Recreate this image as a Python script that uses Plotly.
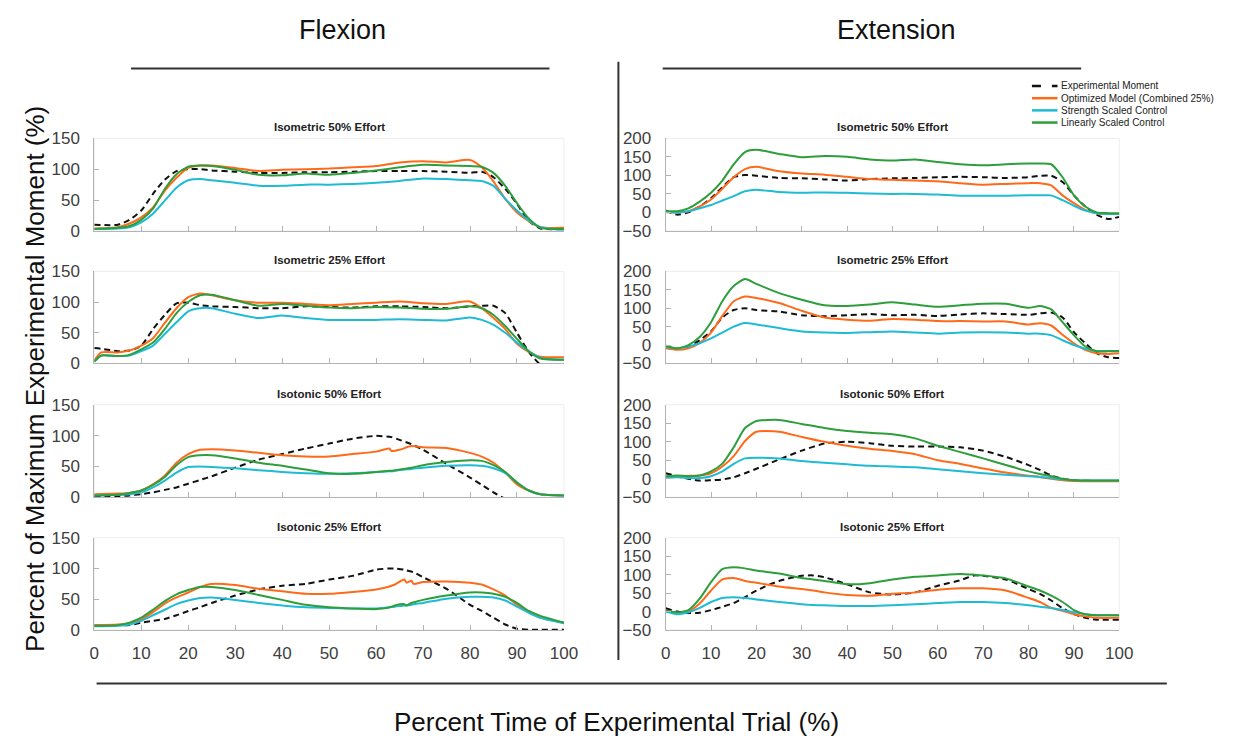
import plotly.graph_objects as go

W, H = 1233, 749

# ---------------- data ----------------
SERIES_NAMES = ["Experimental Moment", "Optimized Model (Combined 25%)",
                "Strength Scaled Control", "Linearly Scaled Control"]
SERIES_COLORS = ["#111111", "#FF6A1A", "#1EBBD4", "#2E9E3C"]

X_TICKS = [0, 10, 20, 30, 40, 50, 60, 70, 80, 90, 100]
Y_TICKS_FLEX = [0, 50, 100, 150]
Y_TICKS_EXT = [-50, 0, 50, 100, 150, 200]

# Flexion - Isometric 50% Effort
X_FLEX_ISOM50 = [0, 5, 7.5, 10, 12.5, 15, 17.5, 20, 22.5, 25, 30, 35, 40, 45, 50, 55, 60, 65, 70, 75,
                 80, 82.5, 85, 87.5, 90, 92.5, 95, 100]
EXP_FLEX_ISOM50 = [10, 10, 18, 33, 60, 83, 97, 100, 100, 98, 96, 94, 94, 95, 95, 96, 97, 97, 97, 96,
                   94, 96, 87, 68, 44, 16, 4, 3]
OPT_FLEX_ISOM50 = [4, 6, 12, 22, 38, 65, 86, 102, 106, 106, 102, 97, 99, 100, 101, 103, 105, 111, 113, 111,
                   115, 103, 80, 52, 30, 16, 6, 5]
STR_FLEX_ISOM50 = [3, 4, 6, 14, 28, 49, 70, 82, 84, 82, 78, 73, 73, 75, 75, 76, 78, 81, 85, 84,
                   82, 81, 73, 52, 33, 17, 6, 2]
LIN_FLEX_ISOM50 = [3, 5, 8, 18, 36, 68, 92, 104, 106, 105, 99, 91, 90, 93, 91, 94, 98, 103, 107, 106,
                   105, 104, 94, 73, 45, 20, 5, 3]

# Flexion - Isometric 25% Effort
X_FLEX_ISOM25 = [0, 1.5, 5, 7.5, 10, 12.5, 15, 17.5, 20, 22.5, 25, 30, 35, 40, 45, 50, 55, 60, 65, 70,
                 75, 80, 82.5, 85, 87.5, 90, 92.5, 95, 100]
EXP_FLEX_ISOM25 = [25, 24, 20, 21, 29, 56, 79, 98, 99, 95, 93, 92, 90, 90, 93, 92, 91, 93, 93, 92,
                   90, 93, 94, 94, 82, 50, 19, -2, -20]
OPT_FLEX_ISOM25 = [5, 18, 18, 21, 29, 41, 66, 90, 108, 114, 111, 103, 99, 99, 97, 95, 97, 99, 101, 98,
                   97, 101, 90, 74, 56, 32, 19, 11, 10]
STR_FLEX_ISOM25 = [3, 13, 12, 13, 20, 29, 48, 67, 85, 90, 90, 81, 74, 78, 74, 71, 71, 71, 72, 71,
                   70, 75, 71, 63, 50, 34, 20, 9, 6]
LIN_FLEX_ISOM25 = [3, 13, 12, 14, 23, 34, 56, 82, 100, 111, 112, 103, 94, 97, 94, 91, 90, 92, 91, 89,
                   89, 93, 90, 79, 61, 40, 20, 8, 6]

# Flexion - Isotonic 50% Effort
X_FLEX_ISOT50 = [0, 5, 7.5, 10, 12.5, 15, 17.5, 20, 22.5, 25, 30, 35, 40, 45, 50, 55, 60, 62.8, 63.3, 65,
                 67.5, 70, 75, 80, 82.5, 85, 87.5, 90, 92.5, 95, 100]
EXP_FLEX_ISOT50 = [1, 2, 3, 5, 8, 12, 16, 22, 28, 34, 48, 61, 70, 79, 87, 95, 99.5, 98, 97.5, 93,
                   86, 77, 54, 32, 20, 8, -3, -15, -25, -30, -30]
OPT_FLEX_ISOT50 = [5, 6, 7, 11, 21, 35, 56, 70, 77, 78, 76, 72, 68, 66, 66, 70, 74, 79, 75, 77,
                   83, 81, 80, 72, 66, 56, 40, 21, 11, 5, 3]
STR_FLEX_ISOT50 = [3, 4, 5, 8, 16, 27, 40, 49, 50, 49, 47, 44, 41, 39, 38, 39, 41, 42, 42, 44,
                   46, 48, 51, 52, 51, 47, 39, 24, 11, 5, 3]
LIN_FLEX_ISOT50 = [3, 4, 7, 11, 20, 33, 52, 65, 68, 68, 63, 56, 51, 45, 39, 38, 41, 43, 43, 45,
                   48, 52, 57, 60, 59, 52, 41, 24, 11, 5, 3]

# Flexion - Isotonic 25% Effort
X_FLEX_ISOT25 = [0, 5, 7.5, 10, 12.5, 15, 17.5, 20, 22.5, 25, 30, 35, 40, 45, 50, 55, 60, 62.5, 64, 66,
                 66.5, 67.5, 68, 70, 75, 80, 82.5, 85, 87.5, 90, 92.5, 95, 100]
EXP_FLEX_ISOT25 = [7, 8, 8, 12, 15, 18, 24, 31, 37, 44, 56, 66, 72, 75, 82, 88, 98, 100, 100, 98,
                   97, 95, 94, 86, 67, 41, 31, 20, 9, 2, 0.5, 0.5, 0.5]
OPT_FLEX_ISOT25 = [8, 9, 11, 17, 29, 43, 53, 61, 70, 75, 73, 67, 63, 59, 59, 62, 66, 70, 74, 82,
                   77, 80, 75, 78, 79, 77, 74, 66, 56, 41, 29, 20, 12]
STR_FLEX_ISOT25 = [6, 7, 9, 15, 24, 33, 42, 48, 52, 53, 49, 44, 40, 37, 36, 35, 35, 37, 38, 40,
                   40, 41, 42, 44, 51, 54, 54, 53, 48, 38, 28, 20, 11]
LIN_FLEX_ISOT25 = [7, 8, 12, 20, 33, 47, 58, 65, 70, 70, 65, 57, 49, 41, 37, 35, 34, 36, 40, 42,
                   40, 44, 45, 49, 56, 61, 61, 59, 54, 44, 31, 23, 12]

# Extension - Isometric 50% Effort
X_EXT_ISOM50 = [0, 2.5, 5, 7.5, 10, 12.5, 15, 17.5, 20, 25, 30, 35, 40, 45, 50, 55, 60, 65, 70, 75,
                80, 82.5, 85, 87.5, 90, 92.5, 95, 97.5, 100]
EXP_EXT_ISOM50 = [5, -6, 0, 16, 38, 68, 95, 101, 99, 93, 92, 89, 86, 90, 92, 93, 95, 96, 95, 93,
                  95, 99, 99, 82, 46, 16, -6, -18, -12]
OPT_EXT_ISOM50 = [1, 0, 3, 16, 35, 64, 95, 117, 123, 111, 105, 102, 96, 90, 88, 86, 84, 79, 75, 77,
                  79, 79, 73, 46, 25, 7, -2, -4, -4]
STR_EXT_ISOM50 = [1, 0, 3, 11, 20, 32, 44, 57, 61, 55, 53, 54, 53, 51, 50, 50, 48, 45, 45, 45,
                  46, 46, 46, 33, 18, 5, -2, -4, -4]
LIN_EXT_ISOM50 = [4, 3, 11, 29, 53, 86, 130, 163, 169, 158, 149, 152, 150, 143, 140, 143, 136, 130, 127, 130,
                  132, 132, 130, 95, 46, 16, 0, -2, -2]

# Extension - Isometric 25% Effort
X_EXT_ISOM25 = [0, 2.5, 5, 7.5, 10, 12.5, 15, 17.5, 20, 25, 30, 35, 40, 45, 50, 55, 60, 65, 70, 75,
                80, 82.5, 85, 87.5, 90, 92.5, 95, 97.5, 100]
EXP_EXT_ISOM25 = [-4, -10, -4, 13, 37, 75, 95, 100, 95, 91, 81, 78, 81, 84, 81, 82, 79, 83, 86, 84,
                  82, 86, 88, 75, 35, 5, -22, -33, -35]
OPT_EXT_ISOM25 = [-9, -13, -9, 6, 34, 79, 119, 132, 128, 114, 93, 75, 69, 66, 71, 69, 65, 65, 64, 64,
                  56, 59, 53, 28, 5, -13, -22, -24, -22]
STR_EXT_ISOM25 = [-6, -9, -4, 5, 18, 34, 50, 60, 56, 46, 37, 34, 33, 35, 37, 34, 31, 34, 35, 34,
                  31, 31, 27, 13, 0, -10, -16, -16, -16]
LIN_EXT_ISOM25 = [-2, -9, 0, 22, 62, 119, 160, 179, 166, 141, 123, 108, 106, 110, 116, 110, 104, 108, 112, 112,
                  101, 106, 97, 62, 27, -4, -17, -17, -16]

# Extension - Isotonic 50% Effort
X_EXT_ISOT50 = [0, 2.5, 5, 7.5, 10, 12.5, 15, 17.5, 20, 25, 30, 35, 40, 45, 50, 55, 60, 65, 70, 75,
                80, 82.5, 85, 87.5, 90, 95, 100]
EXP_EXT_ISOT50 = [15, 7, 0, -5, -4, -2, 4, 15, 27, 52, 76, 95, 100, 96, 89, 87, 87, 85, 76, 59,
                  37, 24, 9, 0, -4, -6, -6]
OPT_EXT_ISOT50 = [4, 7, 8, 9, 15, 33, 61, 102, 127, 127, 113, 100, 89, 81, 75, 66, 50, 40, 28, 17,
                  8, 5, 0, -4, -6, -7, -7]
STR_EXT_ISOT50 = [2, 4, 2, 2, 7, 20, 40, 55, 57, 55, 48, 43, 39, 35, 33, 31, 26, 20, 15, 11,
                  7, 5, 2, -2, -4, -5, -5]
LIN_EXT_ISOT50 = [7, 9, 7, 9, 20, 41, 85, 137, 156, 159, 148, 137, 129, 124, 120, 109, 89, 72, 55, 37,
                  20, 13, 7, 0, -4, -5, -5]

# Extension - Isotonic 25% Effort
X_EXT_ISOT25 = [0, 2.5, 5, 7.5, 10, 12.5, 15, 17.5, 20, 25, 30, 32.5, 35, 40, 45, 50, 55, 60, 65, 68,
                70, 75, 80, 82.5, 85, 87.5, 90, 92.5, 95, 100]
EXP_EXT_ISOT25 = [9, 0, -4, -3, 4, 13, 23, 39, 57, 83, 97, 98, 93, 74, 52, 46, 52, 70, 85, 98,
                  97, 87, 61, 48, 30, 9, -7, -17, -22, -22]
OPT_EXT_ISOT25 = [3, -4, 0, 22, 57, 87, 91, 83, 78, 68, 61, 57, 52, 45, 43, 48, 52, 59, 63, 63,
                  63, 57, 37, 26, 10, 2, -7, -13, -17, -17]
STR_EXT_ISOT25 = [0, -7, -2, 10, 26, 37, 39, 37, 33, 26, 20, 18, 17, 15, 15, 17, 20, 23, 26, 26,
                  26, 23, 17, 13, 10, 4, -2, -7, -10, -10]
LIN_EXT_ISOT25 = [4, -2, 4, 35, 80, 115, 120, 117, 111, 103, 91, 87, 83, 74, 77, 87, 94, 98, 102, 100,
                  98, 90, 68, 57, 43, 26, 4, -7, -10, -10]

PANELS = [
    ("Isometric 50% Effort", "flex", 0, X_FLEX_ISOM50,
     [EXP_FLEX_ISOM50, OPT_FLEX_ISOM50, STR_FLEX_ISOM50, LIN_FLEX_ISOM50]),
    ("Isometric 25% Effort", "flex", 1, X_FLEX_ISOM25,
     [EXP_FLEX_ISOM25, OPT_FLEX_ISOM25, STR_FLEX_ISOM25, LIN_FLEX_ISOM25]),
    ("Isotonic 50% Effort", "flex", 2, X_FLEX_ISOT50,
     [EXP_FLEX_ISOT50, OPT_FLEX_ISOT50, STR_FLEX_ISOT50, LIN_FLEX_ISOT50]),
    ("Isotonic 25% Effort", "flex", 3, X_FLEX_ISOT25,
     [EXP_FLEX_ISOT25, OPT_FLEX_ISOT25, STR_FLEX_ISOT25, LIN_FLEX_ISOT25]),
    ("Isometric 50% Effort", "ext", 0, X_EXT_ISOM50,
     [EXP_EXT_ISOM50, OPT_EXT_ISOM50, STR_EXT_ISOM50, LIN_EXT_ISOM50]),
    ("Isometric 25% Effort", "ext", 1, X_EXT_ISOM25,
     [EXP_EXT_ISOM25, OPT_EXT_ISOM25, STR_EXT_ISOM25, LIN_EXT_ISOM25]),
    ("Isotonic 50% Effort", "ext", 2, X_EXT_ISOT50,
     [EXP_EXT_ISOT50, OPT_EXT_ISOT50, STR_EXT_ISOT50, LIN_EXT_ISOT50]),
    ("Isotonic 25% Effort", "ext", 3, X_EXT_ISOT25,
     [EXP_EXT_ISOT25, OPT_EXT_ISOT25, STR_EXT_ISOT25, LIN_EXT_ISOT25]),
]

# ---------------- layout geometry (pixels) ----------------
FONT = "Liberation Sans, Arial, Helvetica, sans-serif"
TICK_COLOR = "#404040"
AXIS_COLOR = "#b4b4b4"
COL_X = {"flex": (90.7, 567.7), "ext": (671.0, 1131.7)}
ROW_Y = [(132.7, 227.7), (269.2, 363.7), (406.0, 501.0), (542.5, 637.2)]


def px_x(p):
    return p / W


def px_y(p):
    return 1 - p / H


fig = go.Figure()
layout = dict(
    width=W, height=H,
    margin=dict(l=0, r=0, t=0, b=0),
    paper_bgcolor="white", plot_bgcolor="white",
    showlegend=False,
    font=dict(family=FONT, color=TICK_COLOR),
)
annotations = []
shapes = []

for i, (title, side, row, xs, ys_list) in enumerate(PANELS):
    n = i + 1
    xref = "x" if n == 1 else f"x{n}"
    yref = "y" if n == 1 else f"y{n}"
    xkey = "xaxis" if n == 1 else f"xaxis{n}"
    ykey = "yaxis" if n == 1 else f"yaxis{n}"
    x0, x1 = COL_X[side]
    ytop, ybot = ROW_Y[row]
    layout[xkey] = dict(
        domain=[px_x(x0), px_x(x1)], anchor=yref, range=[0, 100],
        tickvals=X_TICKS, ticks="inside", ticklen=5, tickcolor=AXIS_COLOR,
        showline=True, linecolor=AXIS_COLOR, linewidth=1,
        showgrid=False, zeroline=False,
        showticklabels=(row == 3), ticklabelstandoff=8,
        tickfont=dict(size=17, color=TICK_COLOR, family=FONT),
    )
    yticks = Y_TICKS_FLEX if side == "flex" else Y_TICKS_EXT
    yrange = [0, 150] if side == "flex" else [-50, 200]
    layout[ykey] = dict(
        domain=[px_y(ybot), px_y(ytop)], anchor=xref, range=yrange,
        tickvals=yticks, ticks="inside", ticklen=5, tickcolor=AXIS_COLOR,
        showline=True, linecolor=AXIS_COLOR, linewidth=1,
        showgrid=False, zeroline=False, ticklabelstandoff=10,
        tickfont=dict(size=17, color=TICK_COLOR, family=FONT),
    )
    # faint box (top / right edges)
    shapes.append(dict(type="rect", xref=f"{xref} domain", yref=f"{yref} domain",
                       x0=0, x1=1, y0=0, y1=1, line=dict(color="#ededed", width=1),
                       layer="below"))
    annotations.append(dict(
        text=f"<b>{title}</b>", xref="paper", yref="paper",
        x=px_x((x0 + x1) / 2), y=px_y(ytop - 3), xanchor="center", yanchor="bottom",
        showarrow=False, font=dict(size=11.5, color="#222222", family=FONT)))

    for k in range(4):
        dash = "6px,4px" if k == 0 else "solid"
        fig.add_trace(go.Scatter(
            x=xs, y=ys_list[k], mode="lines", name=SERIES_NAMES[k],
            xaxis=xref, yaxis=yref,
            line=dict(color=SERIES_COLORS[k], width=2, dash=dash,
                      shape="spline", smoothing=0.6),
            hoverinfo="skip"))

# ---------------- headings, separators, axis titles ----------------
annotations += [
    dict(text="Flexion", xref="paper", yref="paper", x=px_x(343), y=px_y(22),
         xanchor="center", yanchor="middle", showarrow=False,
         font=dict(size=27, color="#111111", family=FONT)),
    dict(text="Extension", xref="paper", yref="paper", x=px_x(905), y=px_y(22),
         xanchor="center", yanchor="middle", showarrow=False,
         font=dict(size=27, color="#111111", family=FONT)),
    dict(text="Percent Time of Experimental Trial (%)", xref="paper", yref="paper",
         x=px_x(621), y=px_y(732), xanchor="center", yanchor="middle", showarrow=False,
         font=dict(size=26, color="#111111", family=FONT)),
    dict(text="Percent of Maximum Experimental Moment (%)", xref="paper", yref="paper",
         x=px_x(31), y=px_y(380), xanchor="center", yanchor="middle", showarrow=False,
         textangle=-90, font=dict(size=26, color="#111111", family=FONT)),
]
shapes += [
    dict(type="line", xref="paper", yref="paper", x0=px_x(128), x1=px_x(553),
         y0=px_y(61), y1=px_y(61), line=dict(color="#333333", width=2)),
    dict(type="line", xref="paper", yref="paper", x0=px_x(668), x1=px_x(1093),
         y0=px_y(61), y1=px_y(61), line=dict(color="#333333", width=2)),
    dict(type="line", xref="paper", yref="paper", x0=px_x(623), x1=px_x(623),
         y0=px_y(54), y1=px_y(668), line=dict(color="#333333", width=2)),
    dict(type="line", xref="paper", yref="paper", x0=px_x(93), x1=px_x(1180),
         y0=px_y(692), y1=px_y(692), line=dict(color="#333333", width=2)),
]

# ---------------- legend (drawn in the top-right corner) ----------------
LEG_X0, LEG_X1, LEG_TEXT_X = 1043, 1069, 1071
LEG_Y = [79, 91.5, 104, 116.5]
for k, name in enumerate(SERIES_NAMES):
    shapes.append(dict(type="line", xref="paper", yref="paper",
                       x0=px_x(LEG_X0), x1=px_x(LEG_X1), y0=px_y(LEG_Y[k]), y1=px_y(LEG_Y[k]),
                       line=dict(color=SERIES_COLORS[k], width=2.5,
                                 dash="9px,11px" if k == 0 else "solid")))
    annotations.append(dict(text=name, xref="paper", yref="paper",
                            x=px_x(LEG_TEXT_X), y=px_y(LEG_Y[k]), xanchor="left", yanchor="middle",
                            showarrow=False, font=dict(size=10, color="#222222", family=FONT)))

layout["annotations"] = annotations
layout["shapes"] = shapes
fig.update_layout(**layout)
fig.write_html("out.html")
